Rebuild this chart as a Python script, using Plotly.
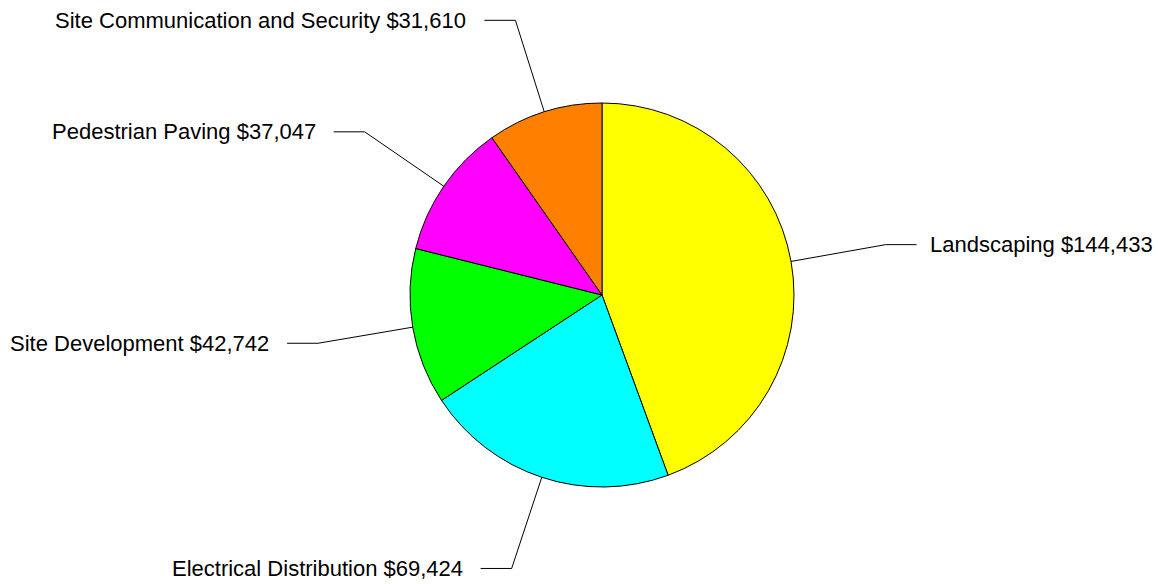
import math
import plotly.graph_objects as go

categories = [
    "Landscaping",
    "Electrical Distribution",
    "Site Development",
    "Pedestrian Paving",
    "Site Communication and Security",
]
amounts = [144433, 69424, 42742, 37047, 31610]
colors = ["#FFFF00", "#00FFFF", "#00FF00", "#FF00FF", "#FF8000"]

W, H = 1158, 584
CX, CY, R = 602, 295, 192  # pie centre and radius in pixels
ELBOW = 1.5                # leader elbow distance, as a multiple of R
TAIL = 31                  # horizontal leader length
GAP = 16                   # space between leader and label

fig = go.Figure(go.Pie(
    labels=categories,
    values=amounts,
    marker=dict(colors=colors, line=dict(color="black", width=1)),
    sort=False,
    direction="clockwise",
    rotation=0,
    textinfo="none",
    hoverinfo="label+value",
    showlegend=False,
    domain=dict(x=[(CX - R) / W, (CX + R) / W],
                y=[1 - (CY + R) / H, 1 - (CY - R) / H]),
))


def px(x, y):
    return x / W, 1 - y / H


total = sum(amounts)
start = 0.0
shapes, annotations = [], []
for name, val in zip(categories, amounts):
    span = val / total * 360
    mid = math.radians(start + span / 2)
    start += span
    sx, sy = math.sin(mid), -math.cos(mid)
    x0, y0 = CX + R * sx, CY + R * sy
    x1, y1 = CX + ELBOW * R * sx, CY + ELBOW * R * sy
    side = 1 if sx >= 0 else -1
    x2 = x1 + side * TAIL
    pts = [px(x0, y0), px(x1, y1), px(x2, y1)]
    path = "M{},{} L{},{} L{},{}".format(*[c for p in pts for c in p])
    shapes.append(dict(type="path", path=path, xref="paper", yref="paper",
                       line=dict(color="black", width=1)))
    lx, ly = px(x2 + side * GAP, y1)
    annotations.append(dict(
        x=lx, y=ly, xref="paper", yref="paper",
        text=f"{name} ${val:,}", showarrow=False,
        xanchor="left" if side > 0 else "right", yanchor="middle",
        xshift=-5 if side > 0 else 0,
        font=dict(family="Liberation Sans, Arial, sans-serif", size=22, color="black"),
    ))

fig.update_layout(
    width=W, height=H,
    margin=dict(l=0, r=0, t=0, b=0),
    paper_bgcolor="white",
    plot_bgcolor="white",
    shapes=shapes,
    annotations=annotations,
)

fig.write_html("out.html")
